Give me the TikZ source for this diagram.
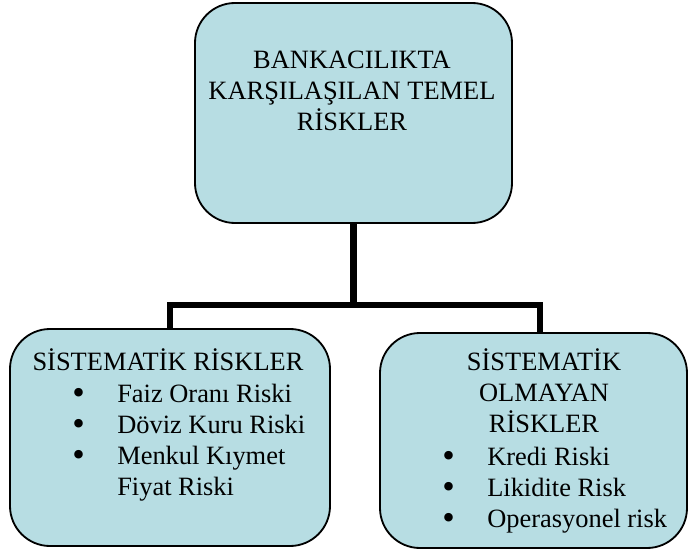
\documentclass[tikz,border=0pt]{standalone}
\usepackage{fontspec}
\setmainfont{Liberation Serif}
\usetikzlibrary{positioning}
\definecolor{riskfill}{RGB}{183,221,227}
\newcommand{\riskbul}{\makebox[1.125cm][l]{\raisebox{-0.08em}{\scalebox{1.35}{\textbullet}}}}
\newcommand{\risknobul}{\hspace*{1.125cm}}
\tikzset{
      riskbox/.style={
        rounded corners=1cm,
        draw=black,
        line width=1.3pt,
        fill=riskfill
      },
      risktext/.style={
        font=\fontsize{18.8}{22}\selectfont,
        inner sep=0pt,
        anchor=base
      },
      link/.style={
        line width=4.3pt,
        draw=black
      }
    }

\begin{document}
\begin{tikzpicture}[x=1cm,y=1cm]
    \useasboundingbox (0,0) rectangle (17.25,13.9);
    \node[riskbox, minimum width=7.925cm, minimum height=5.5cm] (top) at (8.8375,11.075) {};
    \node[riskbox, minimum width=8.0cm, minimum height=5.425cm] (left) at (4.25,2.9625) {};
    \node[riskbox, minimum width=7.675cm, minimum height=5.375cm] (right) at (13.3375,2.8875) {};
    \node[risktext, align=center] (toptext) at (8.8,10.65) {BANKACILIKTA\\KARŞILAŞILAN TEMEL\\RİSKLER};
    \node[risktext, align=center] (lefthead) at (4.2,4.65) {SİSTEMATİK RİSKLER};
    \node[risktext, align=left, anchor=base west] (leftlist) at (1.8,1.525) {\riskbul Faiz Oranı Riski\\\riskbul Döviz Kuru Riski\\\riskbul Menkul Kıymet\\\risknobul Fiyat Riski};
    \node[risktext, align=center] (righthead) at (13.6,3.1) {SİSTEMATİK\\OLMAYAN\\RİSKLER};
    \node[risktext, align=left, anchor=base west] (rightlist) at (11.05,0.725) {\riskbul Kredi Riski\\\riskbul Likidite Risk\\\riskbul Operasyonel risk};
    \coordinate (fork) at (8.8375,6.275);
    \draw[link] (top.south) -- (fork);
    \draw[link] (left.north) |- (fork) -| ([xshift=0.16cm]right.north);
    \end{tikzpicture}
\end{document}
